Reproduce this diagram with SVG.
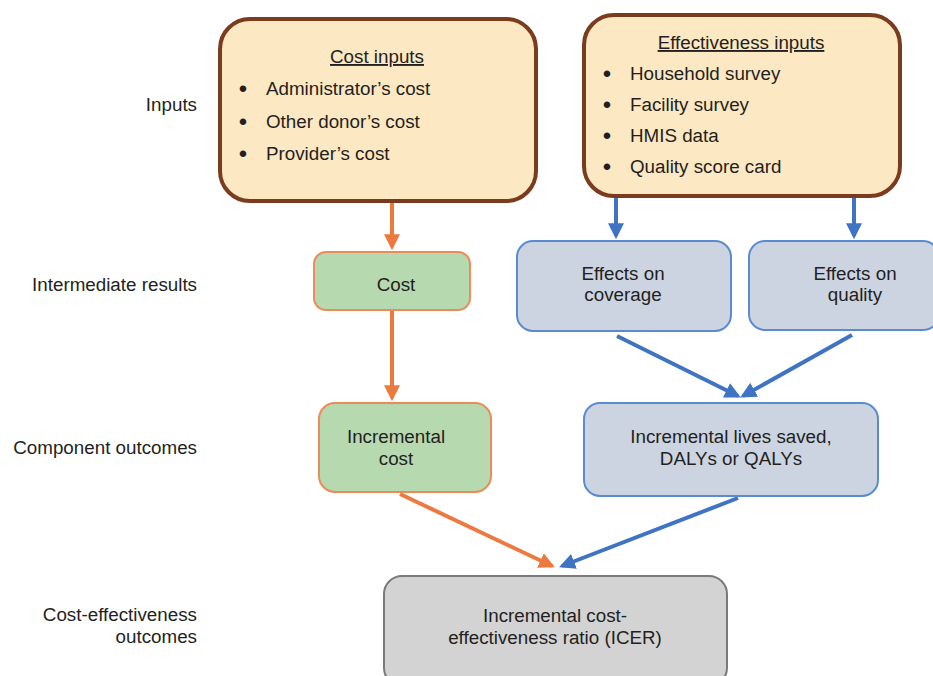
<svg xmlns="http://www.w3.org/2000/svg" width="933" height="676" viewBox="0 0 933 676">
<style>
text{font-family:"Liberation Sans",Arial,sans-serif;font-size:18.8px;fill:#231f20}
.c{text-anchor:middle}
.r{text-anchor:end}
.bl{font-size:24px;text-anchor:middle}
.inp{fill:#fce8c2;stroke:#7a3b1f;stroke-width:4}
.grn{fill:#b7d9b0;stroke:#ee8a58;stroke-width:2}
.blu{fill:#cdd4e1;stroke:#5a8bd2;stroke-width:2}
.gry{fill:#d3d3d3;stroke:#7a7a7a;stroke-width:2}
.o{stroke:#ec7a3e;stroke-width:4;fill:none}
.b{stroke:#3f74c4;stroke-width:4;fill:none}
</style>
<defs>
<marker id="ao" viewBox="0 0 10 10" refX="8" refY="5" markerWidth="4" markerHeight="4" orient="auto" markerUnits="strokeWidth"><path d="M0,0L10,5L0,10z" fill="#ec7a3e"/></marker>
<marker id="ab" viewBox="0 0 10 10" refX="8" refY="5" markerWidth="4" markerHeight="4" orient="auto" markerUnits="strokeWidth"><path d="M0,0L10,5L0,10z" fill="#3f74c4"/></marker>
</defs>
<rect width="933" height="676" fill="#fff"/>
<g id="labels">
<text class="r" x="197" y="111">Inputs</text>
<text class="r" x="197" y="291">Intermediate results</text>
<text class="r" x="197" y="454">Component outcomes</text>
<text class="r" x="197" y="621">Cost-effectiveness</text>
<text class="r" x="197" y="643">outcomes</text>
</g>
<g id="connectors">
<path class="o" d="M392,202V247" marker-end="url(#ao)"/>
<path class="o" d="M392,311V398" marker-end="url(#ao)"/>
<path class="b" d="M616,198V236" marker-end="url(#ab)"/>
<path class="b" d="M854,198V236" marker-end="url(#ab)"/>
<path class="b" d="M617,336L738,396" marker-end="url(#ab)"/>
<path class="b" d="M852,335L743,396" marker-end="url(#ab)"/>
<path class="o" d="M400,494L552,566" marker-end="url(#ao)"/>
<path class="b" d="M738,498L562,566" marker-end="url(#ab)"/>
</g>
<g id="cost-inputs">
<rect class="inp" x="220" y="19" width="316" height="182" rx="30"/>
<text class="c" x="377" y="63" text-decoration="underline">Cost inputs</text>
<text class="bl" x="243" y="97">•</text><text x="266" y="95">Administrator’s cost</text>
<text class="bl" x="243" y="130">•</text><text x="266" y="128">Other donor’s cost</text>
<text class="bl" x="243" y="162">•</text><text x="266" y="160">Provider’s cost</text>
</g>
<g id="effectiveness-inputs">
<rect class="inp" x="584" y="15" width="316" height="181" rx="30"/>
<text class="c" x="741" y="49" text-decoration="underline">Effectiveness inputs</text>
<text class="bl" x="607" y="82">•</text><text x="630" y="80">Household survey</text>
<text class="bl" x="607" y="113">•</text><text x="630" y="111">Facility survey</text>
<text class="bl" x="607" y="144">•</text><text x="630" y="142">HMIS data</text>
<text class="bl" x="607" y="175">•</text><text x="630" y="173">Quality score card</text>
</g>
<g id="cost">
<rect class="grn" x="314" y="252" width="156" height="58" rx="12"/>
<text class="c" x="396" y="291">Cost</text>
</g>
<g id="effects-coverage">
<rect class="blu" x="517" y="241" width="214" height="90" rx="16"/>
<text class="c" x="623" y="280">Effects on</text>
<text class="c" x="623" y="301">coverage</text>
</g>
<g id="effects-quality">
<rect class="blu" x="749" y="241" width="190" height="89" rx="16"/>
<text class="c" x="855" y="280">Effects on</text>
<text class="c" x="855" y="301">quality</text>
</g>
<g id="incremental-cost">
<rect class="grn" x="319" y="403" width="172" height="89" rx="16"/>
<text class="c" x="396" y="443">Incremental</text>
<text class="c" x="396" y="465">cost</text>
</g>
<g id="incremental-lives">
<rect class="blu" x="584" y="403" width="294" height="93" rx="16"/>
<text class="c" x="731" y="443">Incremental lives saved,</text>
<text class="c" x="731" y="465">DALYs or QALYs</text>
</g>
<g id="icer">
<rect class="gry" x="384" y="576" width="343" height="110" rx="18"/>
<text class="c" x="555" y="622">Incremental cost-</text>
<text class="c" x="555" y="644">effectiveness ratio (ICER)</text>
</g>
</svg>
